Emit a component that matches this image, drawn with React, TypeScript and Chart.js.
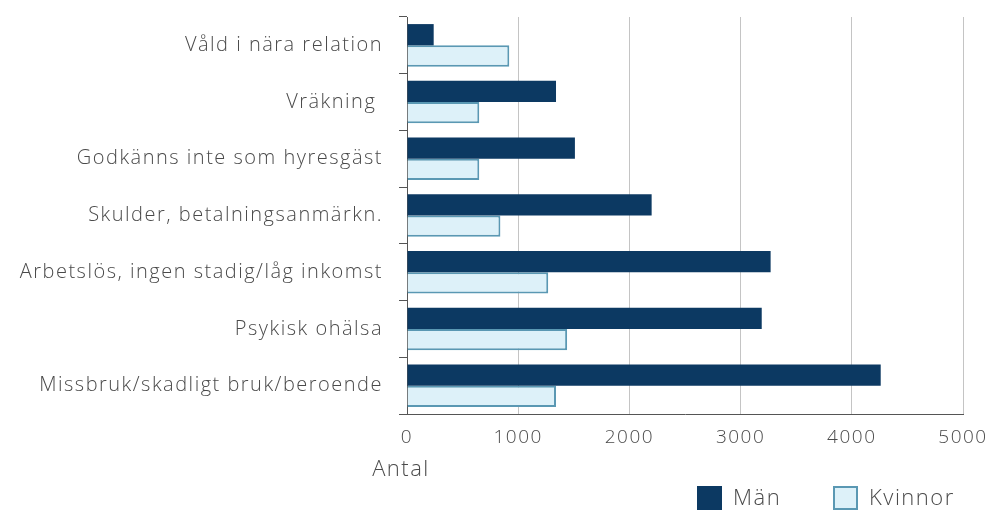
import React, { useEffect, useRef } from "react";
import { Chart, registerables } from "chart.js";

Chart.register(...registerables);

const categories = [
  "Våld i nära relation",
  "Vräkning ",
  "Godkänns inte som hyresgäst",
  "Skulder, betalningsanmärkn.",
  "Arbetslös, ingen stadig/låg inkomst",
  "Psykisk ohälsa",
  "Missbruk/skadligt bruk/beroende",
];
const manValues = [240, 1340, 1510, 2200, 3270, 3190, 4260];
const kvinnorValues = [920, 650, 650, 840, 1270, 1440, 1340];
const seriesNames = ["Män", "Kvinnor"];
const axisTitle = "Antal";
const xMin = 0;
const xMax = 5000;
const xStep = 1000;

const FONT = "'Open Sans', 'DejaVu Sans', sans-serif";
const TEXT = "#4a4a4a";
const DARK = "#0c3962";
const LIGHT = "#ddf1f9";
const LIGHT_BORDER = "#5a98b3";

const extrasPlugin = {
  id: "extras",
  beforeDraw(chart: any) {
    (chart.ctx as any).letterSpacing = "1.5px";
  },
  afterDraw(chart: any) {
    const ctx = chart.ctx as any;
    const xs = chart.scales.x;
    ctx.save();
    ctx.letterSpacing = "1.5px";
    ctx.fillStyle = TEXT;
    ctx.font = `300 22px ${FONT}`;
    ctx.textAlign = "center";
    ctx.textBaseline = "middle";
    ctx.fillText(axisTitle, xs.getPixelForValue(0) - 6, 470);

    // legend
    const items = chart.data.datasets.map((d: any) => ({
      label: d.label,
      fill: d.backgroundColor,
      stroke: d.borderWidth ? d.borderColor : d.backgroundColor,
      bw: d.borderWidth,
    }));
    const starts = [697, 833];
    items.forEach((it: any, i: number) => {
      const x = starts[i];
      const y = 486;
      ctx.fillStyle = it.fill;
      ctx.fillRect(x, y, 25, 24);
      if (it.bw) {
        ctx.strokeStyle = it.stroke;
        ctx.lineWidth = 2;
        ctx.strokeRect(x + 1, y + 1, 23, 22);
      }
      ctx.fillStyle = TEXT;
      ctx.textAlign = "left";
      ctx.font = `300 22px ${FONT}`;
      ctx.fillText(it.label, x + 36, y + 13);
    });
    ctx.restore();
    ctx.letterSpacing = "0px";
  },
};

export default function App() {
  const ref = useRef<HTMLCanvasElement | null>(null);

  useEffect(() => {
    if (!ref.current) return;
    const chart = new Chart(ref.current, {
      type: "bar",
      data: {
        labels: categories,
        datasets: [
          {
            label: seriesNames[0],
            data: manValues,
            backgroundColor: DARK,
            borderColor: DARK,
            borderWidth: 0,
            categoryPercentage: 0.75,
            barPercentage: 1,
          },
          {
            label: seriesNames[1],
            data: kvinnorValues,
            backgroundColor: LIGHT,
            borderColor: LIGHT_BORDER,
            borderWidth: 2,
            categoryPercentage: 0.75,
            barPercentage: 1,
          },
        ],
      },
      options: {
        indexAxis: "y",
        responsive: false,
        animation: false,
        devicePixelRatio: 1,
        layout: { padding: { top: 17, right: 26, left: 0, bottom: 0 } },
        plugins: {
          legend: { display: false },
          tooltip: { enabled: false },
        },
        scales: {
          x: {
            min: xMin,
            max: xMax,
            ticks: {
              stepSize: xStep,
              color: TEXT,
              font: { family: FONT, size: 19, weight: "300" },
              padding: 12,
              callback: (v: any) => String(v),
            },
            grid: { color: "#c4c4c4", drawTicks: false, lineWidth: 1 },
            border: { color: "#555555", width: 1 },
            afterFit: (s: any) => {
              s.height = 107;
              s.paddingLeft = 0;
              s.paddingRight = 0;
            },
          },
          y: {
            type: "category",
            ticks: {
              color: TEXT,
              font: { family: FONT, size: 20, weight: "300" },
              padding: 16,
            },
            grid: {
              drawOnChartArea: false,
              offset: true,
              tickLength: 8,
              color: "#555555",
            },
            border: { color: "#555555", width: 1 },
            afterFit: (s: any) => {
              s.width = 407;
              s.paddingTop = 0;
              s.paddingBottom = 0;
            },
          },
        },
      },
      plugins: [extrasPlugin],
    });
    return () => chart.destroy();
  }, []);

  return (
    <div style={{ position: "fixed", left: 0, top: 0, width: 989, height: 521, background: "#fff" }}>
      <canvas ref={ref} width={989} height={521} style={{ width: 989, height: 521 }} />
    </div>
  );
}
